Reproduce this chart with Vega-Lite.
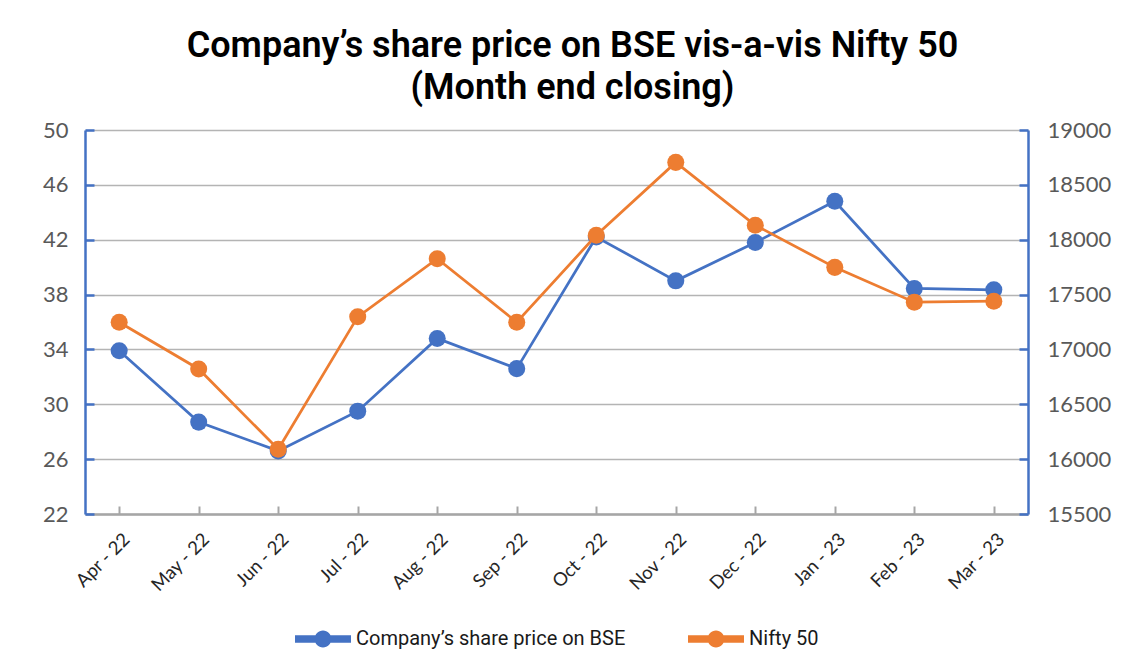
{
  "$schema": "https://vega.github.io/schema/vega-lite/v6.json",
  "width": 943,
  "height": 384,
  "autosize": {"type": "none"},
  "padding": {"left": 85, "top": 130, "right": 113, "bottom": 140},
  "background": "white",
  "title": {
    "text": ["Company’s share price on BSE vis-a-vis Nifty 50", "(Month end closing)"],
    "font": "Roboto",
    "fontSize": 36,
    "fontWeight": 600,
    "color": "#000000",
    "anchor": "middle",
    "dx": 16,
    "lineHeight": 42,
    "offset": 12
  },
  "data": {
    "values": [
      {"month": "Apr - 22", "series": "Company’s share price on BSE", "value": 33.9},
      {"month": "May - 22", "series": "Company’s share price on BSE", "value": 28.7},
      {"month": "Jun - 22", "series": "Company’s share price on BSE", "value": 26.6},
      {"month": "Jul - 22", "series": "Company’s share price on BSE", "value": 29.5},
      {"month": "Aug - 22", "series": "Company’s share price on BSE", "value": 34.8},
      {"month": "Sep - 22", "series": "Company’s share price on BSE", "value": 32.6},
      {"month": "Oct - 22", "series": "Company’s share price on BSE", "value": 42.2},
      {"month": "Nov - 22", "series": "Company’s share price on BSE", "value": 39.0},
      {"month": "Dec - 22", "series": "Company’s share price on BSE", "value": 41.8},
      {"month": "Jan - 23", "series": "Company’s share price on BSE", "value": 44.8},
      {"month": "Feb - 23", "series": "Company’s share price on BSE", "value": 38.45},
      {"month": "Mar - 23", "series": "Company’s share price on BSE", "value": 38.35},
      {"month": "Apr - 22", "series": "Nifty 50", "value": 17248},
      {"month": "May - 22", "series": "Nifty 50", "value": 16822},
      {"month": "Jun - 22", "series": "Nifty 50", "value": 16090},
      {"month": "Jul - 22", "series": "Nifty 50", "value": 17297},
      {"month": "Aug - 22", "series": "Nifty 50", "value": 17827},
      {"month": "Sep - 22", "series": "Nifty 50", "value": 17248},
      {"month": "Oct - 22", "series": "Nifty 50", "value": 18040},
      {"month": "Nov - 22", "series": "Nifty 50", "value": 18705},
      {"month": "Dec - 22", "series": "Nifty 50", "value": 18132},
      {"month": "Jan - 23", "series": "Nifty 50", "value": 17748},
      {"month": "Feb - 23", "series": "Nifty 50", "value": 17431},
      {"month": "Mar - 23", "series": "Nifty 50", "value": 17440}
    ]
  },
  "encoding": {
    "x": {
      "field": "month",
      "type": "ordinal",
      "sort": null,
      "scale": {"type": "point", "padding": 0.43},
      "axis": {
        "title": null,
        "labelAngle": -45,
        "labelAlign": "right",
        "labelBaseline": "middle",
        "labelFont": "Lato",
        "labelFontSize": 18.5,
        "labelColor": "#262626",
        "labelPadding": 30,
        "labelOffset": 7,
        "domainColor": "#A6A6A6",
        "domainWidth": 2.5,
        "tickColor": "#A6A6A6",
        "tickWidth": 2,
        "tickSize": -8,
        "grid": false
      }
    },
    "color": {
      "field": "series",
      "type": "nominal",
      "scale": {
        "domain": ["Company’s share price on BSE", "Nifty 50"],
        "range": ["#4472C4", "#ED7D31"]
      },
      "legend": {
        "title": null,
        "orient": "bottom",
        "direction": "horizontal",
        "offset": 16,
        "symbolType": "M-1,-0.13L1,-0.13L1,0.13L-1,0.13Z M-0.3,0A0.3,0.3 0 1,1 0.3,0A0.3,0.3 0 1,1 -0.3,0Z",
        "symbolSize": 3136,
        "symbolStrokeWidth": 0,
        "labelFont": "Roboto",
        "labelFontSize": 20,
        "labelColor": "#1a1a1a",
        "labelOffset": 5,
        "columnPadding": 62,
        "labelLimit": 400,
        "encode": {
          "symbols": {
            "update": {
              "fill": {"scale": "color", "field": "value"},
              "stroke": {"value": "transparent"}
            }
          }
        }
      }
    }
  },
  "layer": [
    {
      "transform": [{"filter": "datum.series === 'Company’s share price on BSE'"}],
      "encoding": {
        "y": {
          "field": "value",
          "type": "quantitative",
          "scale": {"domain": [22, 50], "zero": false, "nice": false},
          "axis": {
            "title": null,
            "orient": "left",
            "values": [22, 26, 30, 34, 38, 42, 46, 50],
            "labelFont": "Lato",
            "labelFontSize": 22,
            "labelColor": "#595959",
            "labelPadding": 26,
            "domainColor": "#4472C4",
            "domainWidth": 2.5,
            "tickColor": "#4472C4",
            "tickWidth": 2.5,
            "tickSize": -9,
            "grid": true,
            "gridColor": "#B4B4B4",
            "gridWidth": 1.5
          }
        }
      },
      "layer": [
        {"mark": {"type": "line", "strokeWidth": 2.75}},
        {"mark": {"type": "point", "filled": true, "size": 290, "opacity": 1}}
      ]
    },
    {
      "transform": [{"filter": "datum.series === 'Nifty 50'"}],
      "encoding": {
        "y": {
          "field": "value",
          "type": "quantitative",
          "scale": {"domain": [15500, 19000], "zero": false, "nice": false},
          "axis": {
            "title": null,
            "orient": "right",
            "values": [15500, 16000, 16500, 17000, 17500, 18000, 18500, 19000],
            "format": "d",
            "labelFont": "Lato",
            "labelFontSize": 22,
            "labelColor": "#595959",
            "labelPadding": 28,
            "domainColor": "#4472C4",
            "domainWidth": 2.5,
            "tickColor": "#4472C4",
            "tickWidth": 2.5,
            "tickSize": -9,
            "grid": false
          }
        }
      },
      "layer": [
        {"mark": {"type": "line", "strokeWidth": 2.75}},
        {"mark": {"type": "point", "filled": true, "size": 290, "opacity": 1}}
      ]
    }
  ],
  "resolve": {"scale": {"y": "independent"}},
  "config": {
    "view": {"stroke": null},
    "legend": {"layout": {"bottom": {"anchor": "middle"}}}
  }
}
